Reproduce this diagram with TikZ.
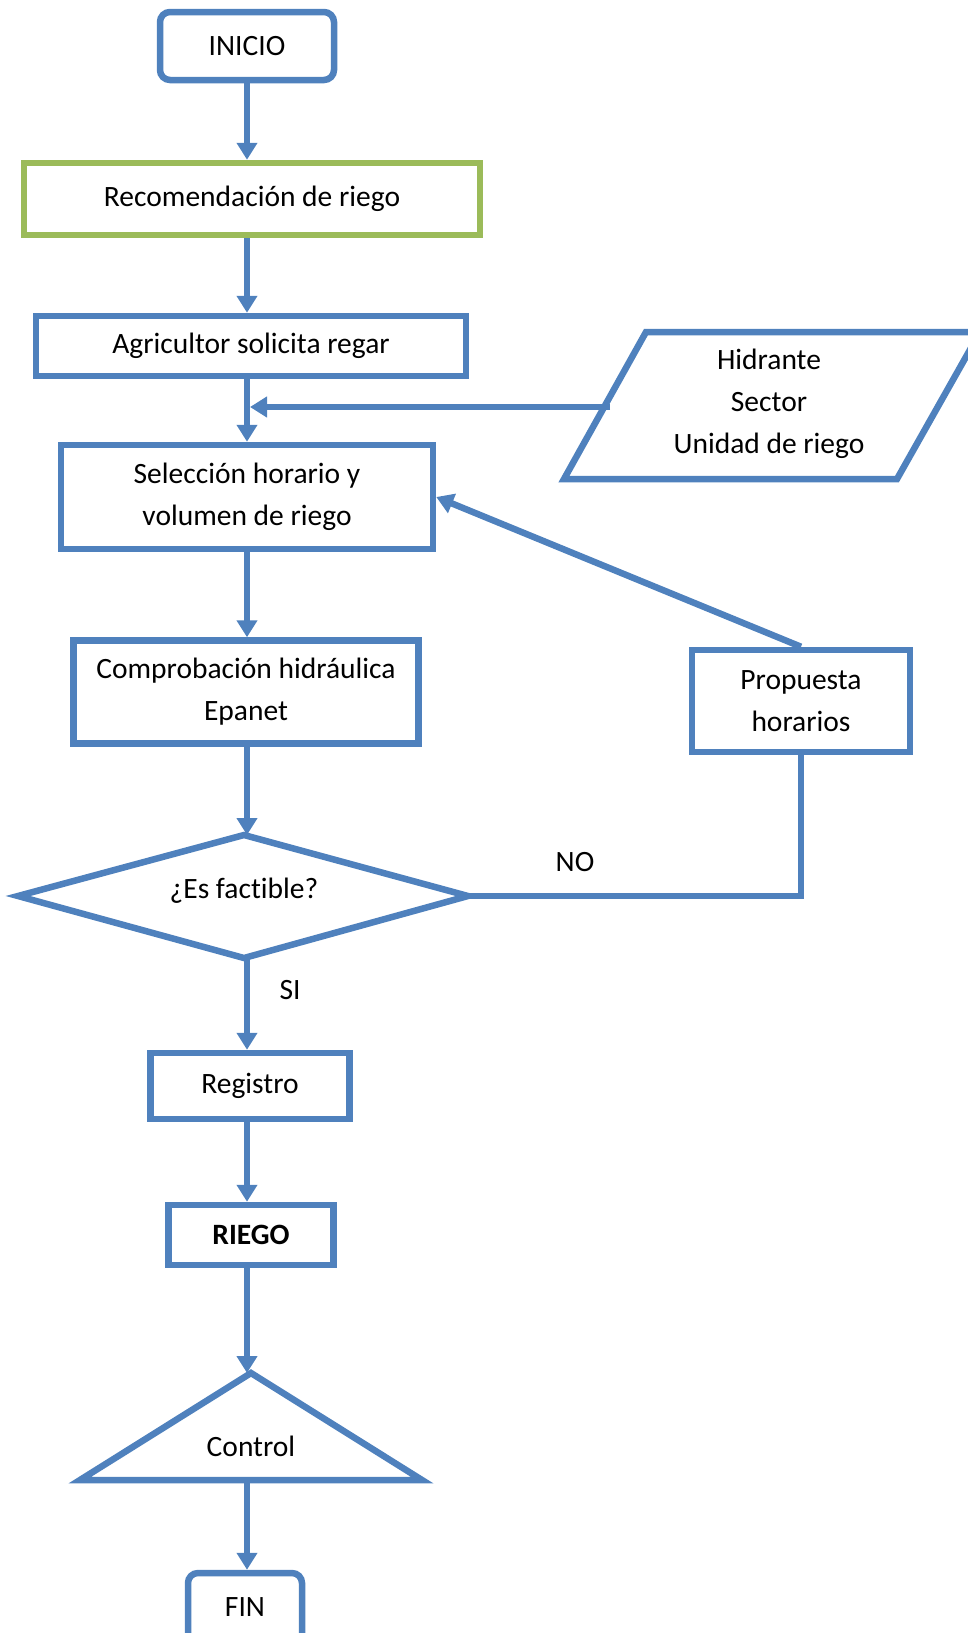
\documentclass[tikz,border=0pt]{standalone}
\usepackage{fontspec}
\setmainfont{Carlito}[Ligatures=NoCommon]
\usetikzlibrary{arrows.meta,shapes.geometric}
\definecolor{flblue}{HTML}{4F81BD}
\definecolor{flgreen}{HTML}{9BBB59}
\tikzset{
  box/.style={draw=flblue, line width=6.5pt, fill=white, inner sep=2pt, align=center,
    font=\fontsize{29.5}{42}\selectfont, text=black},
  gbox/.style={box, draw=flgreen},
  rbox/.style={box, rounded corners=10pt},
  lbl/.style={font=\fontsize{29.5}{42}\selectfont, text=black, inner sep=0pt},
  arr/.style={draw=flblue, line width=6.5pt, -{Triangle[width=20pt,length=17pt]}},
  conn/.style={draw=flblue, line width=6.5pt},
}
\begin{document}
\begin{tikzpicture}[x=1pt,y=-1pt]
\useasboundingbox (0,0) rectangle (968,1633);
\coordinate (col) at (247,0);

\node[rbox, minimum width=174pt, minimum height=68pt] (inicio) at (247,46) {INICIO};
\node[gbox, minimum width=456pt, minimum height=72pt] (recom) at (252,199) {Recomendación de riego};
\node[box, minimum width=430pt, minimum height=60pt] (agri) at (251,346) {\raisebox{-3pt}{Agricultor solicita regar}};
\node[box, minimum width=372pt, minimum height=104pt] (sel) at (247,497) {Selección horario y\\volumen de riego};
\node[box, minimum width=345pt, minimum height=103pt] (comp) at (246,692) {Comprobación hidráulica\\Epanet};
\node[box, minimum width=218pt, minimum height=102pt] (prop) at (801,701) {Propuesta\\horarios};

% decision diamond
\coordinate (dtop) at (244,835);
\coordinate (dright) at (468,896);
\coordinate (dbot) at (244,958);
\coordinate (dleft) at (18,896);
\draw[conn, fill=white, line join=miter] (dtop) -- (dright) -- (dbot) -- (dleft) -- cycle;
\node[lbl] (dec) at (244,891) {¿Es factible?};

\node[box, minimum width=199pt, minimum height=66pt] (reg) at (250,1086) {Registro};
\node[box, minimum width=165pt, minimum height=60pt] (riego) at (251,1235) {\bfseries RIEGO};
\node[rbox, minimum width=114pt, minimum height=76pt] (fin) at (245,1611) {};
\node[lbl] (fintxt) at (245,1607) {FIN};

% input parallelogram
\draw[conn, fill=white] (564,479) -- (646,332) -- (980,332) -- (897,479) -- cycle;
\node[lbl, align=center, font=\fontsize{29.5}{42}\selectfont] (datos) at (769,404) {Hidrante\\Sector\\Unidad de riego};
\coordinate (pin) at (610,407);
\coordinate (join) at (250,407);

% control triangle
\coordinate (capex) at (251,1373);
\coordinate (cleft) at (80,1480);
\coordinate (cright) at (422,1480);
\draw[conn, fill=white, line join=miter] (capex) -- (cright) -- (cleft) -- cycle;
\node[lbl] (control) at (251,1446) {Control};

% connectors
\draw[arr] (inicio.south) -- (inicio.south |- recom.north);
\draw[arr] (recom.south -| col) -- (agri.north -| col);
\draw[arr] (agri.south -| col) -- (sel.north -| col);
\draw[arr] (pin) -- (join);
\draw[arr] (sel.south -| col) -- (comp.north -| col);
\draw[arr] (comp.south -| col) -- (dtop -| col);
\draw[arr] (dbot -| col) -- (reg.north -| col);
\draw[arr] (reg.south -| col) -- (riego.north -| col);
\draw[arr] (riego.south -| col) -- (capex -| col);
\draw[arr] (cleft -| col) -- (fin.north -| col);
\draw[arr] (prop.north) -- (sel.east);
\draw[conn] (dright) -- (dright -| prop.south) -- (prop.south);

\node[lbl] (no) at (575,862) {NO};
\node[lbl] (si) at (290,990) {SI};
\end{tikzpicture}
\end{document}
